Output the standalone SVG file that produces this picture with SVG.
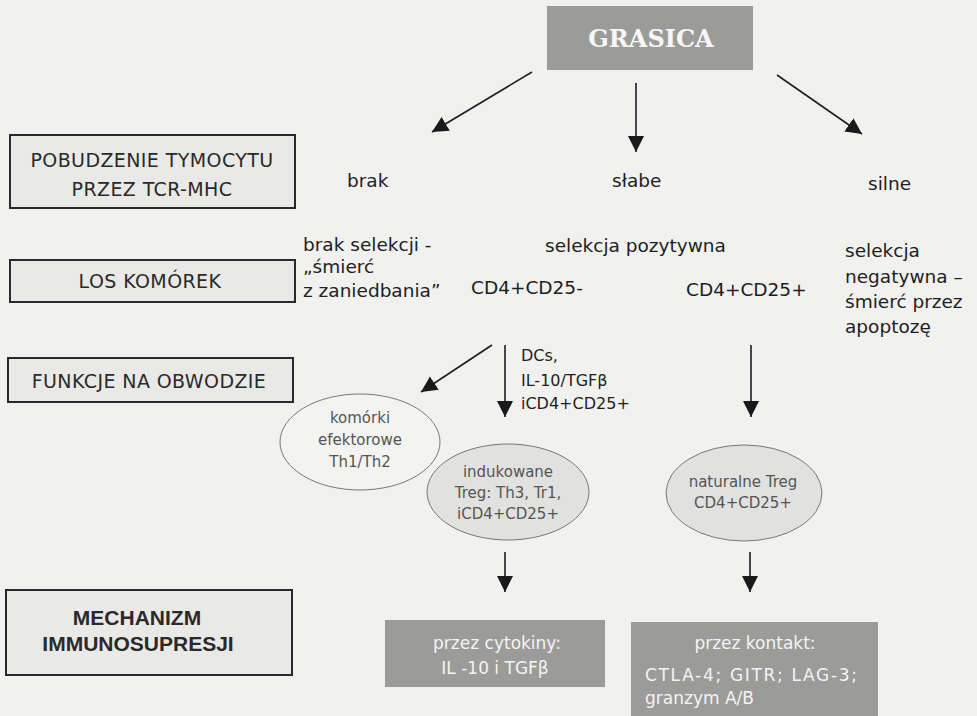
<svg xmlns="http://www.w3.org/2000/svg" width="977" height="716" viewBox="0 0 977 716">
<defs>
<marker id="ah" markerUnits="userSpaceOnUse" markerWidth="18" markerHeight="18" refX="16" refY="8" orient="auto">
<path d="M0,0 L16,8 L0,16 Z" fill="#1a1a1a"/>
</marker>
</defs>
<style>
.lbox{fill:#e9e9e7;stroke:#2a2a2a;stroke-width:2}
.lt{font-family:"DejaVu Sans",Verdana,sans-serif;font-size:19px;letter-spacing:0.4px;fill:#2a2a2a;text-anchor:middle}
.mt{font-family:"DejaVu Sans",Verdana,sans-serif;font-size:18.5px;fill:#1e1e1e}
.dt{font-family:"DejaVu Sans",Verdana,sans-serif;font-size:16px;fill:#1e1e1e}
.et{font-family:"DejaVu Sans",Verdana,sans-serif;font-size:15px;fill:#555;text-anchor:middle}
.gbox{fill:#9b9b99}
.wt{font-family:"DejaVu Sans",Verdana,sans-serif;font-size:17px;fill:#f4f4f4}
.bt{font-family:"Liberation Sans",Arial,sans-serif;font-weight:bold;font-size:21px;fill:#2a2a2a;text-anchor:middle}
.conn{stroke:#1e1e1e;stroke-width:1.6;fill:none;marker-end:url(#ah)}
</style>
<rect width="977" height="716" fill="#f1f1ef"/>

<g id="grasica">
<rect x="547" y="6" width="206" height="64" class="gbox"/>
<text x="651" y="47" font-family="'DejaVu Serif',Georgia,serif" font-weight="bold" font-size="24" fill="#f6f6f6" text-anchor="middle">GRASICA</text>
</g>

<g id="box-pobudzenie">
<rect x="10" y="135" width="285" height="73" class="lbox"/>
<text x="152" y="167" class="lt">POBUDZENIE TYMOCYTU</text>
<text x="152" y="196" class="lt">PRZEZ TCR-MHC</text>
</g>
<g id="box-los">
<rect x="10" y="260" width="285" height="42" class="lbox"/>
<text x="150" y="288" class="lt">LOS KOMÓREK</text>
</g>
<g id="box-funkcje">
<rect x="8" y="358" width="285" height="44" class="lbox"/>
<text x="149" y="388" class="lt">FUNKCJE NA OBWODZIE</text>
</g>
<g id="box-mechanizm">
<rect x="6" y="590" width="286" height="85" class="lbox"/>
<text x="137" y="625" class="bt">MECHANIZM</text>
<text x="138" y="651" class="bt">IMMUNOSUPRESJI</text>
</g>

<g id="txt-brak"><text x="347" y="187" class="mt">brak</text></g>
<g id="txt-slabe"><text x="612" y="187" class="mt">słabe</text></g>
<g id="txt-silne"><text x="868" y="190" class="mt">silne</text></g>

<g id="txt-brak-selekcji">
<text x="303" y="251" class="mt">brak selekcji -</text>
<text x="303" y="273" class="mt">„śmierć</text>
<text x="303" y="297" class="mt">z zaniedbania”</text>
</g>
<g id="txt-selekcja-poz"><text x="545" y="252" class="mt">selekcja pozytywna</text></g>
<g id="txt-cd25minus"><text x="471" y="294" class="mt">CD4+CD25-</text></g>
<g id="txt-cd25plus"><text x="686" y="296" class="mt">CD4+CD25+</text></g>
<g id="txt-selekcja-neg">
<text x="845" y="257" class="mt">selekcja</text>
<text x="845" y="283" class="mt">negatywna –</text>
<text x="845" y="308" class="mt">śmierć przez</text>
<text x="845" y="333" class="mt">apoptozę</text>
</g>

<g id="lbl-dcs">
<text x="521" y="361" class="dt">DCs,</text>
<text x="521" y="386" class="dt">IL-10/TGFβ</text>
<text x="521" y="409" class="dt">iCD4+CD25+</text>
</g>

<g id="ell-efektorowe">
<ellipse cx="360" cy="442" rx="80" ry="48" fill="#f3f3f1" stroke="#777" stroke-width="1"/>
<text x="360" y="423" class="et">komórki</text>
<text x="360" y="445" class="et">efektorowe</text>
<text x="360" y="467" class="et">Th1/Th2</text>
</g>
<g id="ell-indukowane">
<ellipse cx="508" cy="492" rx="81" ry="48" fill="#e1e1df" stroke="#777" stroke-width="1"/>
<text x="508" y="477" class="et">indukowane</text>
<text x="508" y="498" class="et">Treg: Th3, Tr1,</text>
<text x="508" y="519" class="et">iCD4+CD25+</text>
</g>
<g id="ell-naturalne">
<ellipse cx="744" cy="493" rx="78" ry="48" fill="#e1e1df" stroke="#777" stroke-width="1"/>
<text x="743" y="487" class="et">naturalne Treg</text>
<text x="743" y="508" class="et">CD4+CD25+</text>
</g>

<g id="box-cytokiny">
<rect x="385" y="620" width="220" height="67" class="gbox"/>
<text x="497" y="649" class="wt" text-anchor="middle">przez cytokiny:</text>
<text x="495" y="674" class="wt" text-anchor="middle">IL -10 i TGFβ</text>
</g>
<g id="box-kontakt">
<rect x="631" y="622" width="247" height="94" class="gbox"/>
<text x="755" y="649" class="wt" text-anchor="middle">przez kontakt:</text>
<text x="645" y="681" class="wt" textLength="212" lengthAdjust="spacing">CTLA-4; GITR; LAG-3;</text>
<text x="645" y="704" class="wt">granzym A/B</text>
</g>

<g id="connectors">
<line x1="532" y1="72" x2="432" y2="132" class="conn"/>
<line x1="636" y1="83" x2="636" y2="152" class="conn"/>
<line x1="777" y1="75" x2="862" y2="134" class="conn"/>
<line x1="492" y1="345" x2="421" y2="392" class="conn"/>
<line x1="505" y1="345" x2="505" y2="417" class="conn"/>
<line x1="751" y1="345" x2="751" y2="417" class="conn"/>
<line x1="505" y1="552" x2="505" y2="592" class="conn"/>
<line x1="750" y1="552" x2="750" y2="592" class="conn"/>
</g>
</svg>
